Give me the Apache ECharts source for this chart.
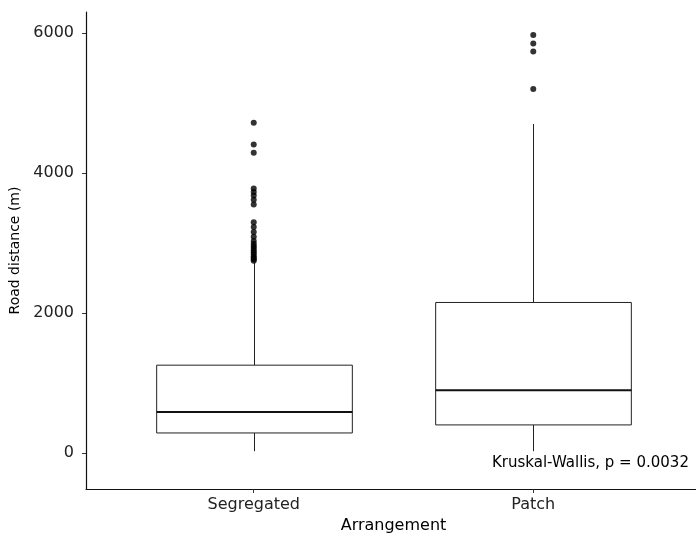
<!DOCTYPE html>
<html>
<head>
<meta charset="utf-8">
<script src="https://cdn.jsdelivr.net/npm/echarts@6/dist/echarts.min.js"></script>
<style>
html,body{margin:0;padding:0;background:#fff;}
#chart{width:696px;height:534px;}
</style>
</head>
<body>
<div id="chart"></div>
<script>
// ---- data ----
var categories = ['Segregated', 'Patch'];
var whiskerLow = [30, 30];
var q1Values = [290, 405];
var medianValues = [590, 900];
var q3Values = [1258, 2153];
var whiskerHigh = [2720, 4700];
var outliersSegregated = [4720, 4410, 4290, 3780, 3730, 3680, 3620, 3550, 3300, 3230, 3160, 3090, 3030, 2990, 2960, 2930, 2900, 2870, 2840, 2810, 2790, 2770, 2750];
var outliersPatch = [5970, 5850, 5735, 5200];
var yTicks = [0, 2000, 4000, 6000];
var annotationText = 'Kruskal-Wallis, p = 0.0032';

// ---- build ----
var boxData = categories.map(function (c, i) {
  return [i + 1, whiskerLow[i], q1Values[i], medianValues[i], q3Values[i], whiskerHigh[i]];
});
var outlierData = [];
outliersSegregated.forEach(function (v) { outlierData.push([1, v]); });
outliersPatch.forEach(function (v) { outlierData.push([2, v]); });

var chart = echarts.init(document.getElementById('chart'), null, {renderer: 'canvas'});
var FONT = 'DejaVu Sans';
var option = {
  animation: false,
  backgroundColor: '#ffffff',
  grid: {left: 86, top: 12, width: 615, height: 477, containLabel: false, outerBoundsMode: 'none'},
  xAxis: {
    type: 'value',
    min: 0.4,
    max: 2.6,
    name: 'Arrangement',
    nameLocation: 'middle',
    nameGap: 28,
    nameTextStyle: {fontFamily: FONT, fontSize: 16, color: '#000'},
    axisLine: {show: true, onZero: false, lineStyle: {color: '#111', width: 1.2}},
    axisTick: {show: true, length: 4, lineStyle: {color: '#333'}, customValues: [1, 2]},
    axisLabel: {
      customValues: [1, 2],
      margin: 8,
      fontFamily: FONT, fontSize: 16, color: '#222',
      formatter: function (v) { return categories[Math.round(v) - 1] || ''; }
    },
    splitLine: {show: false}
  },
  yAxis: {
    type: 'value',
    min: -510,
    max: 6300,
    name: 'Road distance (m)',
    nameLocation: 'middle',
    nameGap: 54,
    nameTextStyle: {fontFamily: FONT, fontSize: 14, color: '#000'},
    axisLine: {show: true, onZero: false, lineStyle: {color: '#111', width: 1.2}},
    axisTick: {show: true, length: 4, lineStyle: {color: '#333'}, customValues: yTicks},
    axisLabel: {
      customValues: yTicks, margin: 12, fontFamily: FONT, fontSize: 16, color: '#222',
      formatter: function (v) { return String(v); }
    },
    splitLine: {show: false}
  },
  graphic: [{
    type: 'text',
    left: 492,
    top: 456,
    style: {text: annotationText, font: '15px "DejaVu Sans"', fill: '#000'}
  }],
  series: [
    {
      type: 'custom',
      renderItem: function (params, api) {
        var x = api.value(0);
        var pLow = api.coord([x, api.value(1)]);
        var pQ1 = api.coord([x, api.value(2)]);
        var pMed = api.coord([x, api.value(3)]);
        var pQ3 = api.coord([x, api.value(4)]);
        var pHigh = api.coord([x, api.value(5)]);
        var half = api.size([0.7, 0])[0] / 2;
        var cx = Math.round(pLow[0]) + 0.5;
        var st = {stroke: '#222', lineWidth: 1, fill: null};
        return {
          type: 'group',
          children: [
            {type: 'line', shape: {x1: cx, y1: pLow[1], x2: cx, y2: pQ1[1]}, style: st},
            {type: 'line', shape: {x1: cx, y1: pQ3[1], x2: cx, y2: pHigh[1]}, style: st},
            {type: 'rect', shape: {x: cx - half, y: pQ3[1], width: half * 2, height: pQ1[1] - pQ3[1]}, style: {stroke: '#222', lineWidth: 1, fill: '#fff'}},
            {type: 'line', shape: {x1: cx - half, y1: pMed[1], x2: cx + half, y2: pMed[1]}, style: {stroke: '#111', lineWidth: 2}}
          ]
        };
      },
      encode: {x: 0, y: [1, 2, 3, 4, 5]},
      data: boxData,
      z: 2
    },
    {
      type: 'scatter',
      data: outlierData,
      symbol: 'circle',
      symbolSize: 6,
      itemStyle: {color: '#000'},
      z: 3
    }
  ]
};
chart.setOption(option);
</script>
</body>
</html>
